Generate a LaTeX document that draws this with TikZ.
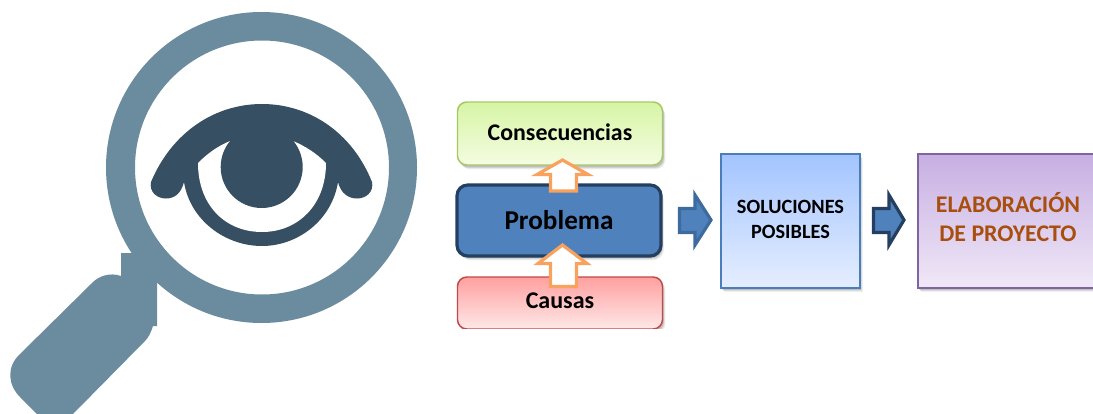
\documentclass[tikz,border=0pt]{standalone}
\usepackage{fontspec}
\setmainfont{Carlito}
\usetikzlibrary{shadows}
\definecolor{ringc}{HTML}{6B8C9F}
\definecolor{eyec}{HTML}{364F62}
\definecolor{probf}{HTML}{4F81BD}
\definecolor{probd}{HTML}{243F60}
\definecolor{orangeb}{HTML}{F9A25E}
\tikzset{
  softshadow/.style={
    drop shadow={shadow xshift=2.2pt,shadow yshift=-3.2pt,opacity=.06,fill=black},
    drop shadow={shadow xshift=1.6pt,shadow yshift=-2.5pt,opacity=.09,fill=black},
    drop shadow={shadow xshift=1pt,shadow yshift=-1.7pt,opacity=.12,fill=black}},
  boxsize/.style n args={2}{minimum width=#1*.75pt,minimum height=#2*.75pt,inner sep=0pt,outer sep=0pt},
  roundbox/.style={rounded corners=7pt,softshadow,line width=1.1pt,align=center},
  squarebox/.style={softshadow,line width=1.1pt,align=center},
  upblock/.style={draw=orangeb,fill=white,line width=2.4pt,miter limit=10},
  rightblock/.style={fill=probf,line width=2.4pt,miter limit=10},
}
\begin{document}
\begin{tikzpicture}[x=.75pt,y=-.75pt]
\useasboundingbox (0,0) rectangle (1093,414);
\clip (0,0) rectangle (1093,414);
% magnifying glass
\fill[ringc] (121,253) -- (132,253) -- (150,262) -- (157,283) -- (157,326) -- (153,326)
  .. controls (151,332) and (149,337) .. (145,341) -- (73,414) -- (37,414) -- (20,397)
  .. controls (8,385) and (6,367) .. (20,354) -- (91,284)
  .. controls (98,276) and (110,272) .. (121,276) -- cycle;
\fill[ringc,even odd rule] (261.5,167.5) circle[radius=155.5] (262,167.5) circle[radius=127];
% eye
\fill[eyec] (151,182) .. controls (172,132) and (215,104) .. (262,104)
  .. controls (309,104) and (352,132) .. (372,182)
  .. controls (374,192) and (366,198.500) .. (357,198.500)
  .. controls (349,198.500) and (341,194) .. (338,182)
  .. controls (332,220) and (298,246) .. (262,246)
  .. controls (225,246) and (190,220) .. (184,182)
  .. controls (181,194) and (174,198.500) .. (166,198.500)
  .. controls (157,198.500) and (149,192) .. (151,182) -- cycle;
\fill[white] (198,163) .. controls (208,153) and (218,146) .. (230,141) -- (293,141)
  .. controls (305,146) and (316,153) .. (326,163)
  .. controls (326,205) and (298,232) .. (262,232)
  .. controls (225,232) and (198,205) .. (198,163) -- cycle;
\fill[eyec] (261.700,167) circle[radius=41];
% boxes
\node[roundbox,boxsize={205}{63},draw={rgb,255:red,166;green,200;blue,100},top color={rgb,255:red,214;green,245;blue,165},bottom color={rgb,255:red,244;green,252;blue,226},font=\bfseries\fontsize{17.900}{20}\selectfont] (cons) at (560,133.500) {\raisebox{2.4pt}{Consecuencias}};
\node[rounded corners=8pt,softshadow,boxsize={204}{71},draw=probd,fill=probf,line width=2.4pt,font=\bfseries\fontsize{20.400}{24}\selectfont] (prob) at (559,220.500) {Problema};
\node[roundbox,boxsize={205}{52},draw={rgb,255:red,190;green,75;blue,72},top color={rgb,255:red,255;green,160;blue,160},bottom color={rgb,255:red,255;green,232;blue,232},font=\bfseries\fontsize{18}{20}\selectfont] (caus) at (560,303) {\raisebox{3pt}{Causas}};
\fill[white] (450,329) rectangle (680,345);
\node[squarebox,boxsize={139}{134},draw={rgb,255:red,74;green,126;blue,187},top color={rgb,255:red,163;green,196;blue,255},bottom color={rgb,255:red,229;green,238;blue,255},font=\bfseries\fontsize{15.200}{18.750}\selectfont] (sol) at (790.500,221) {\raisebox{.8pt}{\begin{tabular}{@{}c@{}}SOLUCIONES\\[-.1pt]POSIBLES\end{tabular}}};
\node[squarebox,boxsize={180}{134},draw={rgb,255:red,128;green,100;blue,162},top color={rgb,255:red,199;green,175;blue,226},bottom color={rgb,255:red,240;green,232;blue,247},text={rgb,255:red,168;green,78;blue,14},font=\bfseries\fontsize{17.900}{21.750}\selectfont] (ela) at (1008,221) {\raisebox{1.5pt}{\begin{tabular}{@{}c@{}}ELABORACIÓN\\DE PROYECTO\end{tabular}}};
% block arrows
\draw[upblock] (550.500,191) -- (550.500,174.500) -- (537,174.500) -- (562.500,160) -- (588,174.500) -- (576.500,174.500) -- (576.500,191) -- cycle;
\draw[upblock] (550.500,286.500) -- (550.500,263.500) -- (538,263.500) -- (562.500,245) -- (587,263.500) -- (576.500,263.500) -- (576.500,286.500) -- cycle;
\draw[rightblock,draw={rgb,255:red,62;green,107;blue,158}] (679.500,208.500) -- (695,208.500) -- (695,195) -- (711,220) -- (695,245) -- (695,232.500) -- (679.500,232.500) -- cycle;
\draw[rightblock,draw=probd] (873.500,208.500) -- (889,208.500) -- (889,195) -- (904,220) -- (889,245) -- (889,232.500) -- (873.500,232.500) -- cycle;
\end{tikzpicture}
\end{document}
